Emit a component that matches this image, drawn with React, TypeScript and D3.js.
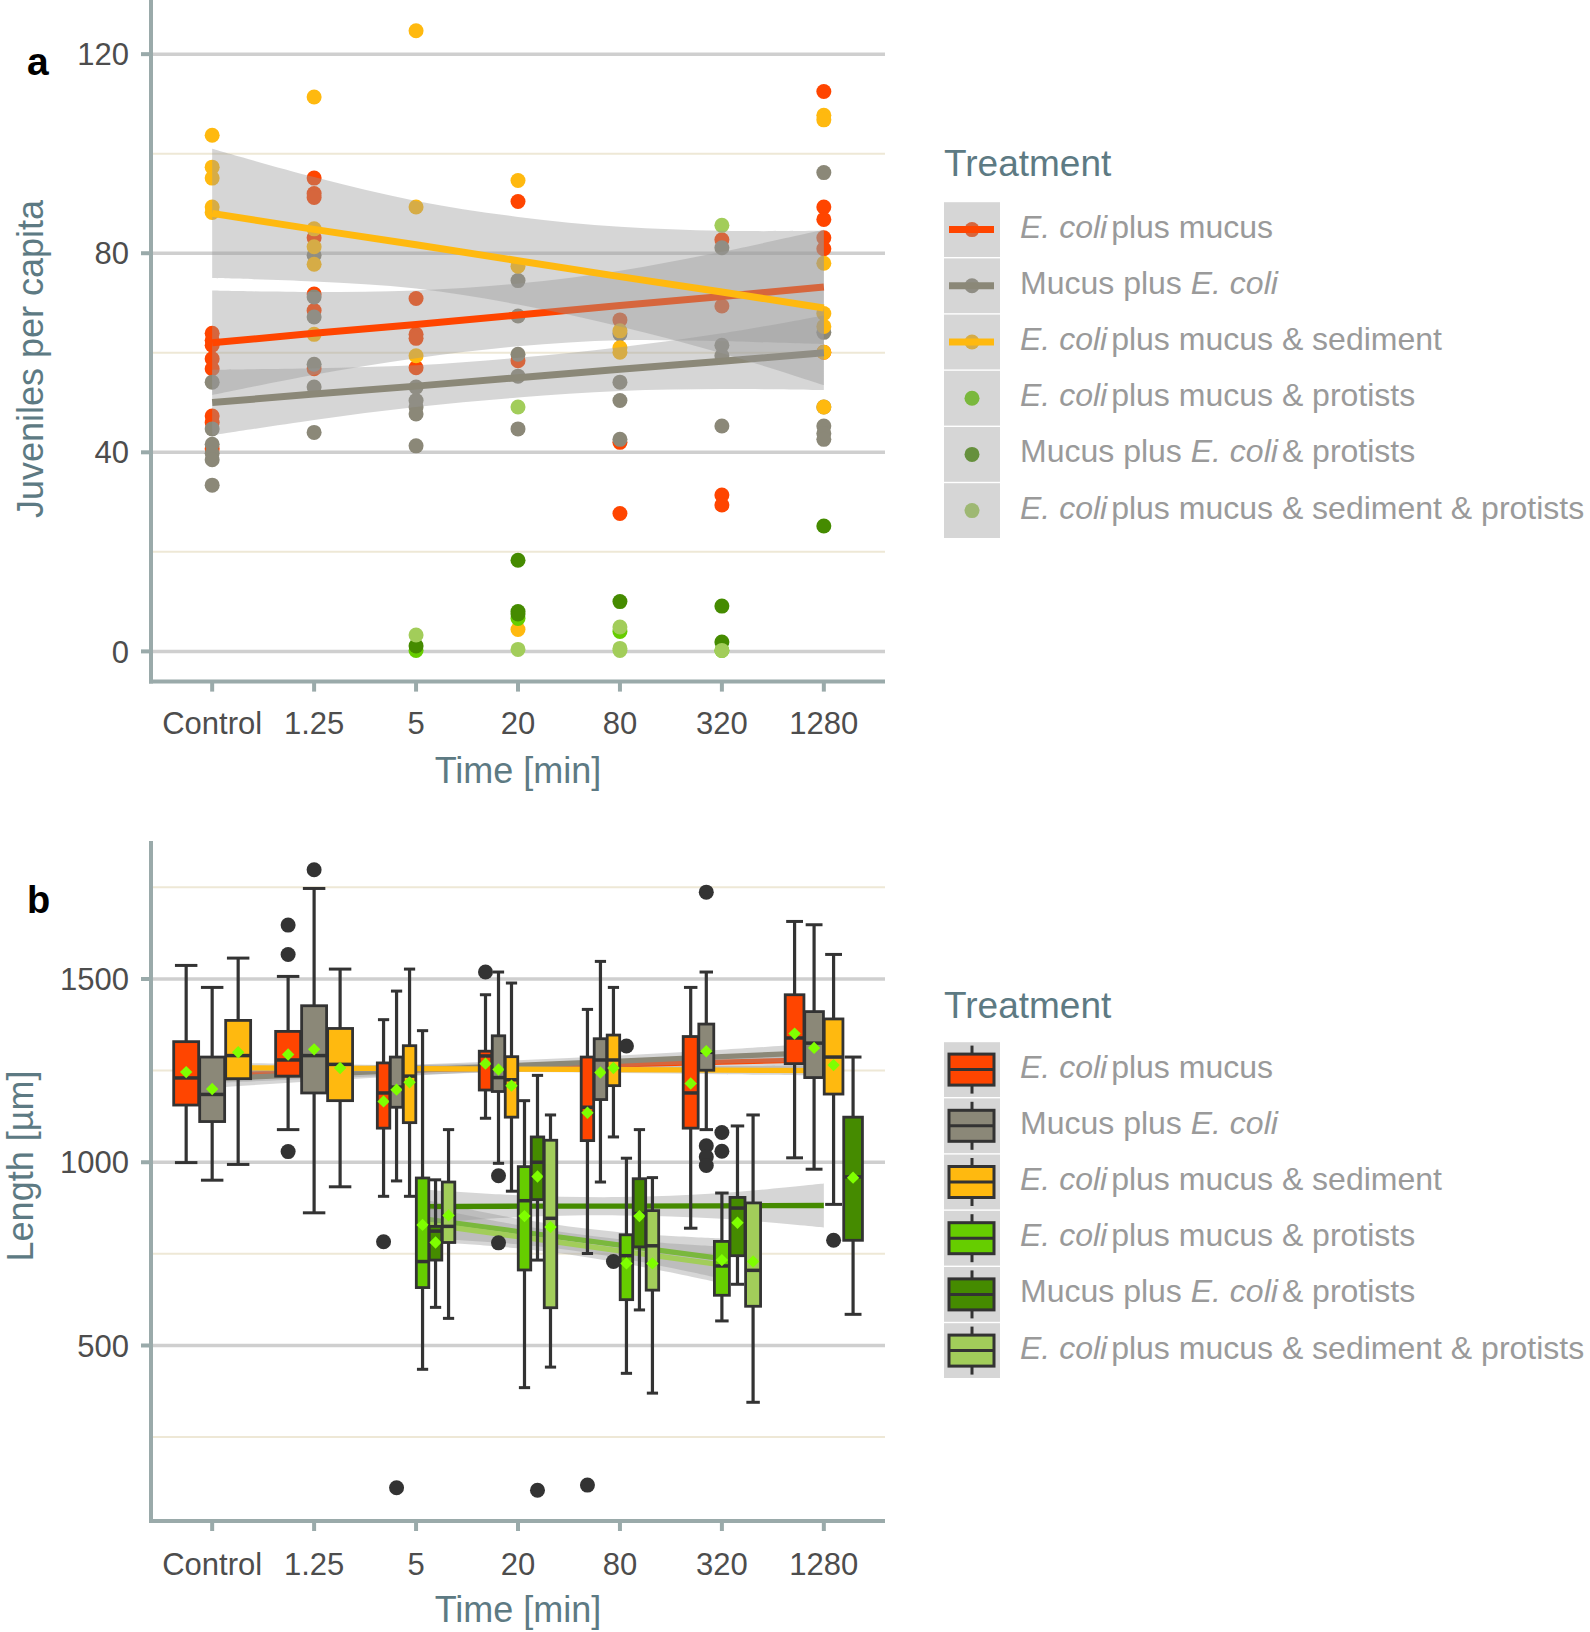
import React from "react";
import * as d3 from "d3";

// ---- data ----
const times = ["Control", "1.25", "5", "20", "80", "320", "1280"];

const treatmentColors = ["#FF4500", "#8B8878", "#FFB90F", "#66CD00", "#458B00", "#A2CD5A"];

// legend labels as [text, italic] runs
const treatmentLabels: [string, boolean][][] = [
  [["E. coli", true], ["plus mucus", false]],
  [["Mucus plus ", false], ["E. coli", true]],
  [["E. coli", true], ["plus mucus & sediment", false]],
  [["E. coli", true], ["plus mucus & protists", false]],
  [["Mucus plus ", false], ["E. coli", true], ["& protists", false]],
  [["E. coli", true], ["plus mucus & sediment & protists", false]],
];

// panel a: juveniles per capita, one list per time point
const juvEcoliMucus = [
  [63.9, 62.5, 61.5, 58.8, 56.8, 47.3, 46.0, 40.7],
  [95.1, 92.0, 91.2, 83.1, 71.8, 68.5, 56.8],
  [70.9, 63.7, 62.9, 57.0],
  [90.4, 58.4],
  [66.6, 42.0, 27.7],
  [82.7, 69.4, 31.4, 29.4],
  [112.5, 89.3, 86.8, 83.1, 80.9, 60.1],
];
const juvMucusEcoli = [
  [54.1, 44.7, 41.6, 39.8, 38.5, 33.4],
  [79.6, 71.2, 67.2, 57.7, 53.1, 44.0],
  [53.1, 50.4, 49.1, 47.7, 41.3],
  [74.5, 67.4, 59.7, 55.3, 44.7],
  [63.8, 54.1, 50.4, 42.6],
  [81.1, 61.5, 59.4, 45.3],
  [96.2, 64.1, 49.1, 45.3, 43.8, 42.6],
];
const juvSediment = [
  [103.7, 97.3, 95.1, 89.3, 88.2],
  [111.4, 84.9, 81.3, 77.8, 63.7],
  [124.7, 89.3, 59.4],
  [94.6, 77.4, 4.4],
  [64.4, 61.0, 60.1],
  [],
  [107.7, 106.8, 78.0, 67.9, 65.3, 60.1, 49.1],
];
const juvProtists = [[], [], [0.2], [6.6], [4.0], [0.2], []];
const juvMucusProtists = [[], [], [1.1], [18.3, 8.0, 7.5], [10.0], [9.1, 1.9], [25.2]];
const juvSedimentProtists = [[], [], [3.3], [49.1, 0.4], [4.9, 0.6, 0.2], [85.6, 0.2], []];

const juvPoints = [juvEcoliMucus, juvMucusEcoli, juvSediment, juvProtists, juvMucusProtists, juvSedimentProtists];

// panel a: linear fits (centre and band half-width at each time)
const fitJuvEcoliMucus = [62, 63.9, 65.7, 67.6, 69.5, 71.3, 73.2];
const bandJuvEcoliMucus = [10.5, 8.3, 6.8, 6.3, 7, 9, 11.5];
const fitJuvMucusEcoli = [50, 51.7, 53.3, 55, 56.7, 58.3, 60];
const bandJuvMucusEcoli = [6.6, 5.2, 4.2, 4, 4.4, 5.6, 7.5];
const fitJuvSediment = [88, 84.8, 81.7, 78.5, 75.3, 72.2, 69];
const bandJuvSediment = [13, 10.5, 8.8, 8.8, 10, 12.3, 15.5];

const juvFits = [
  { c: 0, fit: fitJuvEcoliMucus, band: bandJuvEcoliMucus },
  { c: 1, fit: fitJuvMucusEcoli, band: bandJuvMucusEcoli },
  { c: 2, fit: fitJuvSediment, band: bandJuvSediment },
];

// panel b: length boxplots [lower whisker, q1, median, q3, upper whisker]
type Box = number[] | null;
const boxEcoliMucus: Box[] = [
  [999, 1156, 1230, 1329, 1537],
  [1089, 1235, 1279, 1357, 1507],
  [907, 1093, 1189, 1271, 1389],
  [1120, 1197, 1290, 1303, 1457],
  [751, 1059, 1150, 1287, 1417],
  [820, 1093, 1189, 1343, 1477],
  [1012, 1269, 1339, 1457, 1657],
];
const meanEcoliMucus = [1246, 1294, 1166, 1269, 1135, 1215, 1351];
const outEcoliMucus = [[], [1647, 1567, 1029], [783], [1519], [119], [], []];

const boxMucusEcoli: Box[] = [
  [951, 1111, 1185, 1287, 1477],
  [862, 1189, 1291, 1427, 1747],
  [949, 1150, 1205, 1287, 1467],
  [997, 1193, 1231, 1345, 1519],
  [946, 1171, 1279, 1337, 1548],
  [1089, 1251, 1300, 1377, 1519],
  [981, 1231, 1325, 1411, 1648],
];
const meanMucusEcoli = [1200, 1308, 1198, 1253, 1245, 1303, 1312];
const outMucusEcoli = [[], [1798], [112], [963, 780], [], [1737, 1045, 1015, 991], []];

const boxSediment: Box[] = [
  [994, 1228, 1291, 1387, 1557],
  [933, 1168, 1267, 1365, 1527],
  [907, 1108, 1235, 1318, 1527],
  [921, 1123, 1225, 1288, 1489],
  [1069, 1209, 1279, 1347, 1477],
  null,
  [885, 1186, 1287, 1391, 1567],
];
const meanSediment = [1300, 1257, 1218, 1209, 1257, null, 1265];
const outSediment = [[], [], [], [], [729], [], [787]];

const boxProtists: Box[] = [
  null,
  null,
  [435, 658, 729, 957, 1359],
  [385, 706, 895, 988, 1168],
  [424, 625, 745, 802, 1011],
  [567, 637, 717, 784, 916],
  null,
];
const meanProtists = [null, null, 829, 853, 724, 733, null];
const outProtists = [[], [], [], [], [1317], [1081, 1030], []];

const boxMucusProtists: Box[] = [
  null,
  null,
  [604, 733, 812, 825, 952],
  [733, 898, 1000, 1069, 1237],
  [597, 769, 860, 955, 1089],
  [667, 745, 875, 904, 1099],
  [585, 787, 960, 1123, 1287],
];
const meanMucusProtists = [null, null, 781, 961, 853, 835, 958];
const outMucusProtists = [[], [], [], [105], [], [], []];

const boxSedimentProtists: Box[] = [
  null,
  null,
  [574, 781, 825, 946, 1089],
  [441, 603, 847, 1060, 1129],
  [370, 651, 772, 868, 958],
  [345, 607, 705, 889, 1129],
  null,
];
const meanSedimentProtists = [null, null, 855, 823, 724, 729, null];
const outSedimentProtists = [[], [], [], [], [], [], []];

const lenBoxes = [boxEcoliMucus, boxMucusEcoli, boxSediment, boxProtists, boxMucusProtists, boxSedimentProtists];
const lenMeans = [meanEcoliMucus, meanMucusEcoli, meanSediment, meanProtists, meanMucusProtists, meanSedimentProtists];
const lenOutliers = [outEcoliMucus, outMucusEcoli, outSediment, outProtists, outMucusProtists, outSedimentProtists];

// panel b: linear fits
const fitLenEcoliMucus = [1238, 1245, 1252, 1259, 1266, 1273, 1280];
const bandLenEcoliMucus = [22, 17, 13, 12, 13, 17, 22];
const fitLenMucusEcoli = [1228, 1240, 1252, 1264, 1276, 1288, 1300];
const bandLenMucusEcoli = [25, 19, 15, 14, 15, 19, 25];
const fitLenSediment = [1258, 1256.7, 1255.3, 1254, 1252.7, 1251.3, 1250];
const bandLenSediment = [14, 11, 9, 8, 9, 11, 14];
const fitLenProtists = [null, null, 848, 811, 774, 737, null];
const bandLenProtists = [null, null, 55, 35, 35, 55, null];
const fitLenMucusProtists = [null, null, 879, 880, 880, 881, 882];
const bandLenMucusProtists = [null, null, 48, 30, 25, 35, 60];
const fitLenSedimentProtists = [null, null, 835, 797, 758, 720, null];
const bandLenSedimentProtists = [null, null, 50, 32, 32, 50, null];

const lenFits = [
  { c: 0, fit: fitLenEcoliMucus, band: bandLenEcoliMucus },
  { c: 1, fit: fitLenMucusEcoli, band: bandLenMucusEcoli },
  { c: 2, fit: fitLenSediment, band: bandLenSediment },
  { c: 3, fit: fitLenProtists, band: bandLenProtists },
  { c: 4, fit: fitLenMucusProtists, band: bandLenMucusProtists },
  { c: 5, fit: fitLenSedimentProtists, band: bandLenSedimentProtists },
];

const juvMajor = [0, 40, 80, 120];
const juvMinor = [20, 60, 100];
const lenMajor = [500, 1000, 1500];
const lenMinor = [250, 750, 1250, 1750];

// ---- layout ----
const W = 1590;
const H = 1632;
const FONT = "'Liberation Sans', Arial, Helvetica, sans-serif";
const LEFT = 151;
const RIGHT = 885;
const AXIS_COL = "#9aaaaa";
const TITLE_COL = "#5d7a83";
const TICK_COL = "#4d4d4d";
const LABEL_COL = "#9a9a9a";

const x = d3.scalePoint<string>().domain(times).range([LEFT, RIGHT]).padding(0.6);
const yA = d3.scaleLinear().domain([-6.07, 130.88]).range([681.6, 0]);
const yB = d3.scaleLinear().domain([21.1, 1876.5]).range([1521, 841]);

type Fit = { c: number; fit: (number | null)[]; band: (number | null)[] };

function Smooth({ f, y, lw }: { f: Fit; y: d3.ScaleLinear<number, number>; lw: number }) {
  const pts = f.fit
    .map((v, i) => ({ i, v, h: f.band[i] }))
    .filter((d) => d.v != null) as { i: number; v: number; h: number }[];
  const area = d3
    .area<{ i: number; v: number; h: number }>()
    .x((d) => x(times[d.i])!)
    .y0((d) => y(d.v - d.h))
    .y1((d) => y(d.v + d.h))
    .curve(d3.curveCatmullRom);
  const line = d3
    .line<{ i: number; v: number }>()
    .x((d) => x(times[d.i])!)
    .y((d) => y(d.v));
  return (
    <g>
      <path d={area(pts)!} fill="#999999" fillOpacity={0.4} />
      <path d={line(pts)!} fill="none" stroke={treatmentColors[f.c]} strokeWidth={lw} />
    </g>
  );
}

function Frame({
  y,
  major,
  minor,
  top,
  bottom,
  title,
  titleY,
  tickBase,
  titleBase,
  yTitleX,
}: {
  y: d3.ScaleLinear<number, number>;
  major: number[];
  minor: number[];
  top: number;
  bottom: number;
  title: string;
  titleY: number;
  tickBase: number;
  titleBase: number;
  yTitleX: number;
}) {
  return (
    <g fontFamily={FONT}>
      {minor.map((v) => (
        <line key={"mi" + v} x1={LEFT} x2={RIGHT} y1={y(v)} y2={y(v)} stroke="#eee8d6" strokeWidth={2} />
      ))}
      {major.map((v) => (
        <line key={"ma" + v} x1={LEFT} x2={RIGHT} y1={y(v)} y2={y(v)} stroke="#cfcfcf" strokeWidth={3.5} />
      ))}
      {major.map((v) => (
        <g key={"t" + v}>
          <line x1={LEFT - 10} x2={LEFT} y1={y(v)} y2={y(v)} stroke={AXIS_COL} strokeWidth={4} />
          <text x={129} y={y(v)} dy="0.36em" textAnchor="end" fontSize={31} fill={TICK_COL}>
            {v}
          </text>
        </g>
      ))}
      {times.map((t) => (
        <g key={t}>
          <line x1={x(t)} x2={x(t)} y1={bottom} y2={bottom + 10} stroke={AXIS_COL} strokeWidth={4} />
          <text x={x(t)} y={tickBase} textAnchor="middle" fontSize={31} fill={TICK_COL}>
            {t}
          </text>
        </g>
      ))}
      <line x1={LEFT} x2={LEFT} y1={top} y2={bottom + 2} stroke={AXIS_COL} strokeWidth={4} />
      <line x1={LEFT - 2} x2={RIGHT} y1={bottom} y2={bottom} stroke={AXIS_COL} strokeWidth={4} />
      <text x={(LEFT + RIGHT) / 2} y={titleBase} textAnchor="middle" fontSize={36} fill={TITLE_COL}>
        Time [min]
      </text>
      <text
        transform={`translate(${yTitleX},${titleY}) rotate(-90)`}
        textAnchor="middle"
        fontSize={36}
        fill={TITLE_COL}
      >
        {title}
      </text>
    </g>
  );
}

function LegendLabel({ runs, x0, y0 }: { runs: [string, boolean][]; x0: number; y0: number }) {
  return (
    <text x={x0} y={y0} fontSize={32} fill={LABEL_COL} fontFamily={FONT}>
      {runs.map(([t, it], k) => (
        <tspan key={k} fontStyle={it ? "italic" : "normal"} dx={k > 0 && runs[k - 1][1] ? 4 : 0}>
          {t}
        </tspan>
      ))}
    </text>
  );
}

function Legend({ top, titleBase, kind }: { top: number; titleBase: number; kind: "a" | "b" }) {
  const rowH = 56.2;
  const kx = 944;
  const kw = 56;
  const cx = kx + kw / 2;
  return (
    <g>
      <text x={kx} y={titleBase} fontSize={37} fill={TITLE_COL} fontFamily={FONT}>
        Treatment
      </text>
      {treatmentColors.map((col, i) => {
        const y0 = top + i * rowH;
        const c = y0 + rowH / 2;
        return (
          <g key={i}>
            <rect x={kx} y={y0 + 0.7} width={kw} height={rowH - 1.4} fill="#ffffff" />
            {kind === "a" && <circle cx={cx} cy={c} r={7.5} fill={col} />}
            <rect x={kx} y={y0 + 0.7} width={kw} height={rowH - 1.4} fill="#999999" fillOpacity={0.4} />
            {kind === "a" && i < 3 && (
              <line x1={kx + 5} x2={kx + kw - 6} y1={c} y2={c} stroke={col} strokeWidth={7} />
            )}
            {kind === "b" && (
              <g stroke="#333333" strokeWidth={3}>
                <line x1={cx} x2={cx} y1={c - 24} y2={c + 24} />
                <rect x={kx + 5} y={c - 15.5} width={45} height={31} fill={col} />
                <line x1={kx + 5} x2={kx + 50} y1={c} y2={c} />
              </g>
            )}
            <LegendLabel runs={treatmentLabels[i]} x0={1020} y0={c + 8} />
          </g>
        );
      })}
    </g>
  );
}

function PanelA() {
  return (
    <g>
      <Frame
        y={yA}
        major={juvMajor}
        minor={juvMinor}
        top={0}
        bottom={681.6}
        title="Juveniles per capita"
        titleY={359}
        tickBase={734}
        titleBase={783}
        yTitleX={43}
      />
      {juvPoints.map((series, c) =>
        series.map((vals, i) =>
          vals.map((v, k) => (
            <circle key={`${c}-${i}-${k}`} cx={x(times[i])} cy={yA(v)} r={7.5} fill={treatmentColors[c]} />
          ))
        )
      )}
      {juvFits.map((f) => (
        <Smooth key={f.c} f={f} y={yA} lw={7} />
      ))}
      <text x={27} y={74.5} fontSize={39} fontWeight="bold" fontFamily={FONT} fill="#000">
        a
      </text>
      <Legend top={201.5} titleBase={176} kind="a" />
    </g>
  );
}

const diamond = d3.symbol(d3.symbolDiamond2, 98)()!;

function PanelB() {
  const dodge = 0.765 * x.step();
  const items: JSX.Element[] = [];
  times.forEach((t, i) => {
    const present = lenBoxes.map((b, c) => (b[i] ? c : -1)).filter((c) => c >= 0);
    const slot = dodge / present.length;
    present.forEach((c, k) => {
      const [lo, q1, med, q3, hi] = lenBoxes[c][i]!;
      const cx = x(t)! - dodge / 2 + slot * (k + 0.5);
      const bw = slot * 0.96;
      const cw = bw * 0.9;
      items.push(
        <g key={`${c}-${i}`} stroke="#333333">
          <line x1={cx} x2={cx} y1={yB(lo)} y2={yB(hi)} strokeWidth={3.2} />
          <line x1={cx - cw / 2} x2={cx + cw / 2} y1={yB(lo)} y2={yB(lo)} strokeWidth={3} />
          <line x1={cx - cw / 2} x2={cx + cw / 2} y1={yB(hi)} y2={yB(hi)} strokeWidth={3} />
          <rect
            x={cx - bw / 2}
            y={yB(q3)}
            width={bw}
            height={yB(q1) - yB(q3)}
            fill={treatmentColors[c]}
            strokeWidth={2.8}
          />
          <line x1={cx - bw / 2} x2={cx + bw / 2} y1={yB(med)} y2={yB(med)} strokeWidth={3.5} />
          {lenOutliers[c][i].map((v, k2) => (
            <circle key={k2} cx={cx} cy={yB(v)} r={7.5} fill="#333333" stroke="none" />
          ))}
          <path d={diamond} transform={`translate(${cx},${yB(lenMeans[c][i]!)})`} fill="#7FFF00" stroke="none" />
        </g>
      );
    });
  });
  return (
    <g>
      <Frame
        y={yB}
        major={lenMajor}
        minor={lenMinor}
        top={841}
        bottom={1521}
        title="Length [µm]"
        titleY={1166}
        tickBase={1575}
        titleBase={1622}
        yTitleX={33}
      />
      {lenFits.map((f) => (
        <Smooth key={f.c} f={f} y={yB} lw={5.3} />
      ))}
      {items}
      <text x={27} y={913} fontSize={38} fontWeight="bold" fontFamily={FONT} fill="#000">
        b
      </text>
      <Legend top={1041.5} titleBase={1017.5} kind="b" />
    </g>
  );
}

export default function App() {
  return (
    <svg
      width={W}
      height={H}
      viewBox={`0 0 ${W} ${H}`}
      style={{ position: "absolute", left: 0, top: 0, background: "#fff" }}
    >
      <rect width={W} height={H} fill="#fff" />
      <PanelA />
      <PanelB />
    </svg>
  );
}
